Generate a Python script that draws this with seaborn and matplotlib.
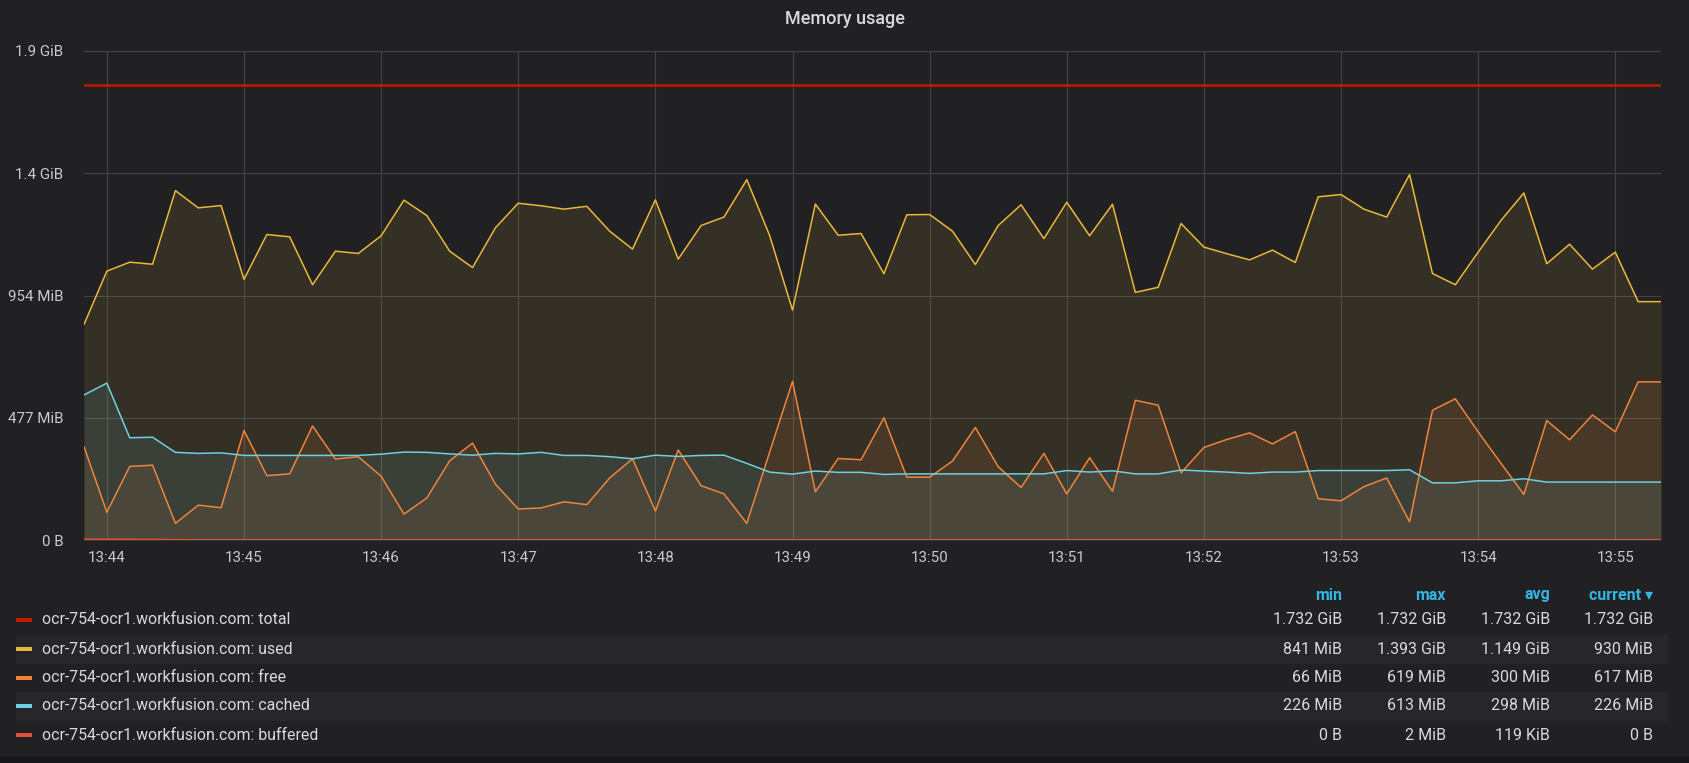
import numpy as np
import pandas as pd
import seaborn as sns
import matplotlib.pyplot as plt
import matplotlib.dates as mdates
from matplotlib.patches import Rectangle

# values in MiB, one sample every 10 s
times = pd.date_range("2019-01-01 13:43:50", periods=70, freq="10s")

used = [841, 1049, 1084, 1076, 1363, 1296, 1305, 1017, 1192, 1183,
        996, 1127, 1118, 1187, 1326, 1266, 1127, 1063, 1218, 1314,
        1304, 1291, 1302, 1205, 1135, 1327, 1096, 1227, 1260, 1406,
        1188, 897, 1311, 1189, 1196, 1039, 1269, 1270, 1205, 1075,
        1227, 1308, 1176, 1318, 1187, 1310, 966, 986, 1235, 1143,
        1117, 1093, 1131, 1083, 1339, 1348, 1291, 1260, 1426, 1040,
        996, 1123, 1247, 1354, 1078, 1154, 1057, 1123, 930, 930]

free = [364, 108, 287, 292, 65, 136, 126, 427, 251, 258,
        445, 316, 325, 249, 101, 164, 309, 378, 218, 121,
        125, 149, 138, 242, 317, 113, 351, 212, 180, 65,
        343, 619, 188, 318, 313, 477, 245, 245, 308, 439,
        286, 205, 338, 180, 321, 190, 545, 526, 262, 361,
        392, 418, 375, 423, 161, 153, 208, 242, 71, 506,
        551, 422, 299, 178, 466, 391, 488, 422, 617, 617]

cached = [566, 612, 399, 401, 342, 338, 340, 330, 330, 330,
          330, 330, 330, 335, 343, 342, 336, 331, 338, 336,
          342, 330, 330, 325, 317, 331, 326, 330, 331, 299,
          265, 257, 269, 264, 264, 256, 258, 258, 258, 258,
          258, 258, 258, 271, 265, 270, 258, 258, 273, 269,
          265, 260, 265, 265, 271, 271, 271, 271, 274, 223,
          223, 231, 231, 239, 226, 226, 226, 226, 226, 226]

buffered = [2, 2, 2, 1.5, 0.6] + [0] * 65
total = [1773.6] * 70

series_names = ["total", "used", "free", "cached", "buffered"]
series_colors = ["#BF1B00", "#EAB839", "#EF843C", "#6ED0E0", "#E24D42"]
host = "ocr-754-ocr1.workfusion.com"

stat_headers = ["min", "max", "avg", "current \u25be"]
stat_min = ["1.732 GiB", "841 MiB", "66 MiB", "226 MiB", "0 B"]
stat_max = ["1.732 GiB", "1.393 GiB", "619 MiB", "613 MiB", "2 MiB"]
stat_avg = ["1.732 GiB", "1.149 GiB", "300 MiB", "298 MiB", "119 KiB"]
stat_cur = ["1.732 GiB", "930 MiB", "617 MiB", "226 MiB", "0 B"]

ytick_values = [0, 477, 954, 1431, 1908]
ytick_labels = ["0 B", "477 MiB", "954 MiB", "1.4 GiB", "1.9 GiB"]

BG = "#212124"
GRID = "#444447"
W, H = 1690, 763

sns.set_theme(style="dark")
plt.rcParams["font.family"] = ["Roboto", "DejaVu Sans"]

fig = plt.figure(figsize=(W / 100, H / 100), dpi=100, facecolor=BG)
ax = fig.add_axes([84 / W, 1 - 540 / H, (1661 - 84) / W, (540 - 51) / H])
ax.set_facecolor(BG)

df = pd.DataFrame({"time": times, "total": total, "used": used, "free": free,
                   "cached": cached, "buffered": buffered})

widths = {"total": 1.8, "used": 1.1, "free": 1.1, "cached": 1.1, "buffered": 1.4}
for name, col in zip(series_names, series_colors):
    sns.lineplot(data=df, x="time", y=name, color=col, lw=widths[name], ax=ax)
    if name != "total":
        ax.fill_between(df["time"], 0, df[name], color=col, alpha=0.1, lw=0)

ax.set_xlim(times[0], times[-1])
ax.set_ylim(0, 1908)
ax.set_yticks(ytick_values)
ax.set_yticklabels(ytick_labels)
ax.xaxis.set_major_locator(mdates.MinuteLocator())
ax.xaxis.set_major_formatter(mdates.DateFormatter("%H:%M"))
ax.set_xlabel("")
ax.set_ylabel("")

for s in ax.spines.values():
    s.set_visible(False)
ax.grid(True, color=GRID, alpha=1.0, lw=0.8)
ax.set_axisbelow(True)
ax.tick_params(axis="y", length=9.4, width=0.8, color=GRID, pad=5.5,
               labelsize=10.9, labelcolor="#c8c9cb")
ax.tick_params(axis="x", length=0, pad=8, labelsize=10.9, labelcolor="#c8c9cb")

fig.text(0.5, 1 - 19 / H, "Memory usage", ha="center", va="center",
         fontsize=13, fontweight="medium", color="#d8d9da")

# legend table
def fy(py):
    return 1 - py / H

row_y = [620, 649, 678, 706, 735]
col_right = [1342, 1446, 1550, 1653]

for i, y in enumerate(row_y):
    if i % 2 == 1:
        fig.add_artist(Rectangle((16 / W, fy(y + 14.5)), (1668 - 16) / W, 29 / H,
                                 transform=fig.transFigure, color="#27272a", lw=0, zorder=0))
    fig.add_artist(Rectangle((16 / W, fy(y + 2)), 16 / W, 4 / H,
                             transform=fig.transFigure, color=series_colors[i], lw=0))
    fig.text(42 / W, fy(y), f"{host}: {series_names[i]}", ha="left", va="center",
             fontsize=11.4, color="#d8d9da")
    for x, vals in zip(col_right, [stat_min, stat_max, stat_avg, stat_cur]):
        fig.text(x / W, fy(y), vals[i], ha="right", va="center",
                 fontsize=11.5, color="#d8d9da")

for x, h in zip(col_right, stat_headers):
    fig.text(x / W, fy(595), h, ha="right", va="center", fontsize=11.5,
             fontweight="bold", color="#33b5e5")

fig.add_artist(Rectangle((0, 0), 1, 6 / H, transform=fig.transFigure,
                         color="#161719", lw=0))

fig.savefig("out.png", dpi=100, facecolor=BG)
